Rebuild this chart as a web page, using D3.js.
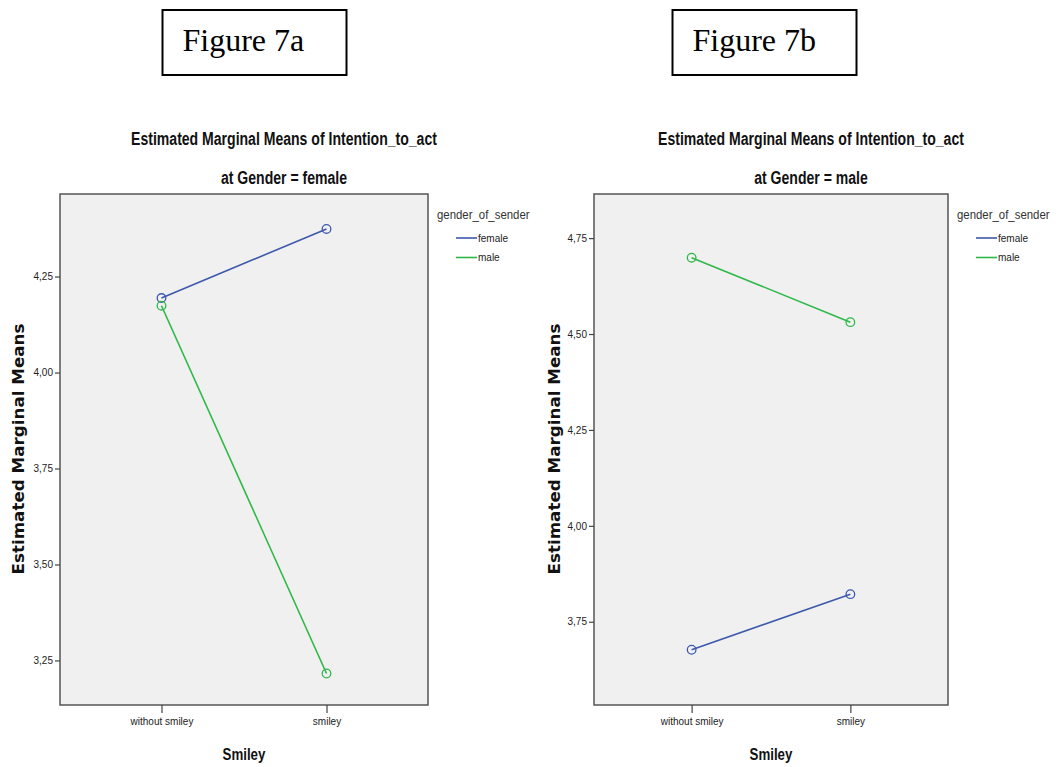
<!DOCTYPE html>
<html>
<head>
<meta charset="utf-8">
<script src="https://d3js.org/d3.v7.min.js"></script>
<style>
  body { margin: 0; background: #fff; }
  svg { display: block; }
  .tick text { font-family: "Liberation Sans", Arial, sans-serif; font-size: 10px; fill: #222; }
  .tick line { stroke: #444; stroke-width: 1.2px; }
  .domain { display: none; }
</style>
<title>Figure 7a / 7b</title>
</head>
<body>
<script>
// categories and series
const categories = ["without smiley", "smiley"];
const seriesNames = ["female", "male"];
const seriesColors = ["#3e58ac", "#2eb848"];

// Figure 7a: at Gender = female
const femaleA = [4.194, 4.374];
const maleA = [4.174, 3.216];
const ticksA = [3.25, 3.50, 3.75, 4.00, 4.25];
const domainA = [3.134, 4.465];

// Figure 7b: at Gender = male
const femaleB = [3.677, 3.822];
const maleB = [4.699, 4.531];
const ticksB = [3.75, 4.00, 4.25, 4.50, 4.75];
const domainB = [3.533, 4.865];

const W = 1056, H = 767;
const svg = d3.select("body").append("svg").attr("width", W).attr("height", H);

// comma as decimal separator, like the SPSS output
const fmt = d3.formatLocale({decimal: ",", thousands: ".", grouping: [3], currency: ["", ""]}).format(".2f");

// shrink a text horizontally to a fraction of its natural width
function squeeze(sel, k) {
  sel.each(function() {
    const w = this.getComputedTextLength();
    d3.select(this).attr("textLength", w * k).attr("lengthAdjust", "spacingAndGlyphs");
  });
  return sel;
}

function drawPanel(p) {
  const g = svg.append("g");

  // figure label box
  g.append("rect")
    .attr("x", p.boxX).attr("y", 10).attr("width", 184).attr("height", 65)
    .attr("fill", "none").attr("stroke", "#000").attr("stroke-width", 2);
  g.append("text")
    .attr("x", p.boxX + 20).attr("y", 51)
    .style("font-family", "'Liberation Serif', 'Times New Roman', serif")
    .style("font-size", "32px")
    .text(p.figure);

  const x = d3.scalePoint().domain(categories).range([p.left, p.right]).padding(0.615);
  const y = d3.scaleLinear().domain(p.domain).range([p.bottom, p.top]);

  // titles
  const tx = p.titleX;
  squeeze(g.append("text")
    .attr("x", tx).attr("y", 145).attr("text-anchor", "middle")
    .style("font-family", "'Liberation Sans', Arial, sans-serif")
    .style("font-size", "18px").style("font-weight", "bold").attr("fill", "#111")
    .text("Estimated Marginal Means of Intention_to_act"), 0.78);
  squeeze(g.append("text")
    .attr("x", tx).attr("y", 184).attr("text-anchor", "middle")
    .style("font-family", "'Liberation Sans', Arial, sans-serif")
    .style("font-size", "18px").style("font-weight", "bold").attr("fill", "#111")
    .text("at Gender = " + p.gender), 0.78);

  // plot frame
  g.append("rect")
    .attr("x", p.left).attr("y", p.top)
    .attr("width", p.right - p.left).attr("height", p.bottom - p.top)
    .attr("fill", "#f0f0f0").attr("stroke", "#555").attr("stroke-width", 1.5);

  // axes
  g.append("g")
    .attr("transform", "translate(" + p.left + ",0)")
    .call(d3.axisLeft(y).tickValues(p.ticks).tickSize(5).tickPadding(2).tickFormat(fmt));
  g.append("g")
    .attr("transform", "translate(0," + p.bottom + ")")
    .call(d3.axisBottom(x).tickSize(8).tickPadding(5));

  // axis titles
  g.append("text")
    .attr("transform", "translate(" + p.yTitleX + "," + 449 + ") rotate(-90)")
    .attr("text-anchor", "middle")
    .style("font-family", "'DejaVu Sans', Verdana, sans-serif")
    .style("font-size", "15px").style("font-weight", "bold").attr("fill", "#111")
    .attr("textLength", 251).attr("lengthAdjust", "spacingAndGlyphs")
    .text("Estimated Marginal Means");
  squeeze(g.append("text")
    .attr("x", (p.left + p.right) / 2).attr("y", 760).attr("text-anchor", "middle")
    .style("font-family", "'Liberation Sans', Arial, sans-serif")
    .style("font-size", "16px").style("font-weight", "bold").attr("fill", "#111")
    .text("Smiley"), 0.83);

  // lines and markers
  const line = d3.line().x((d, i) => x(categories[i])).y(d => y(d));
  p.series.forEach((vals, s) => {
    g.append("path")
      .datum(vals)
      .attr("d", line)
      .attr("fill", "none").attr("stroke", seriesColors[s]).attr("stroke-width", 1.6);
  });
  p.series.forEach((vals, s) => {
    g.selectAll(null)
      .data(vals)
      .join("circle")
      .attr("cx", (d, i) => x(categories[i]))
      .attr("cy", d => y(d))
      .attr("r", 4.3)
      .attr("fill", "none").attr("stroke", seriesColors[s]).attr("stroke-width", 1.3);
  });

  // legend
  const lx = p.right + 9;
  squeeze(g.append("text")
    .attr("x", lx).attr("y", 219)
    .style("font-family", "'Liberation Sans', Arial, sans-serif")
    .style("font-size", "12px").attr("fill", "#333")
    .text("gender_of_sender"), 0.95);
  seriesNames.forEach((name, s) => {
    const ly = 238 + s * 19.5;
    g.append("line")
      .attr("x1", lx + 19).attr("x2", lx + 40).attr("y1", ly).attr("y2", ly)
      .attr("stroke", seriesColors[s]).attr("stroke-width", 1.6);
    g.append("text")
      .attr("x", lx + 41).attr("y", ly + 3.5)
      .style("font-family", "'Liberation Sans', Arial, sans-serif")
      .style("font-size", "10px").attr("fill", "#222")
      .text(name);
  });
}

drawPanel({
  figure: "Figure 7a", boxX: 162.5, gender: "female", titleX: 284,
  left: 60, right: 428, top: 194, bottom: 705, yTitleX: 24,
  domain: domainA, ticks: ticksA, series: [femaleA, maleA]
});
drawPanel({
  figure: "Figure 7b", boxX: 672.5, gender: "male", titleX: 811,
  left: 594, right: 948, top: 194, bottom: 705, yTitleX: 560,
  domain: domainB, ticks: ticksB, series: [femaleB, maleB]
});
</script>
</body>
</html>
